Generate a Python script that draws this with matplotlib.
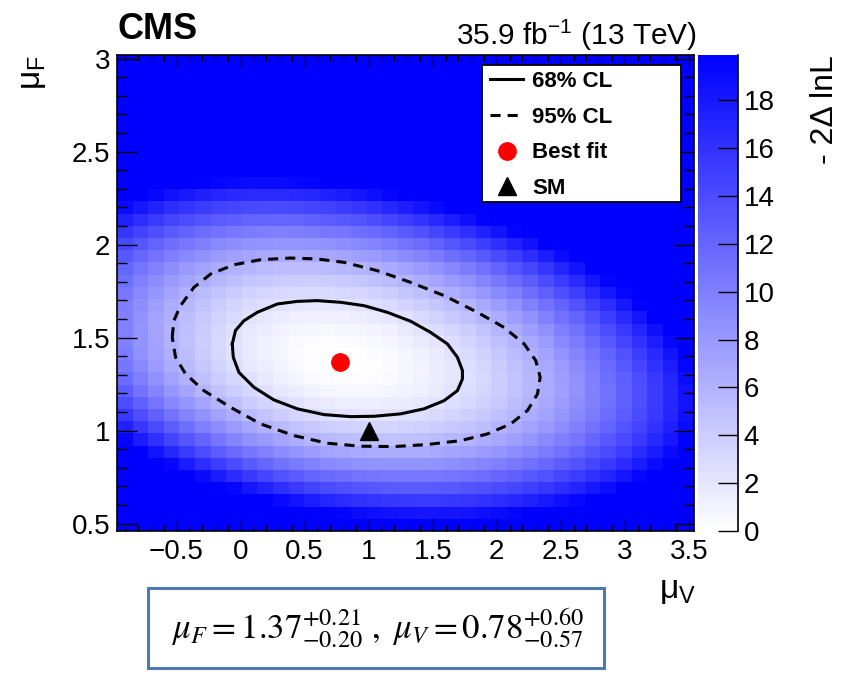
import numpy as np
import matplotlib
matplotlib.use("Agg")
import matplotlib.pyplot as plt
from matplotlib.colors import LinearSegmentedColormap
from matplotlib.lines import Line2D
from matplotlib.patches import Rectangle
from matplotlib.ticker import MultipleLocator, FuncFormatter

plt.rcParams['font.family'] = ['Liberation Sans', 'DejaVu Sans']
plt.rcParams['mathtext.fontset'] = 'custom'
plt.rcParams['mathtext.rm'] = 'Liberation Sans'
plt.rcParams['mathtext.it'] = 'Liberation Sans:italic'
plt.rcParams['mathtext.bf'] = 'Liberation Sans:bold'

# ---------------- data ----------------
mu_v_range = (-0.965, 3.54)   # x bin range
mu_f_range = (0.46, 3.02)     # y bin range
n_bins_v = 37
n_bins_f = 39

S = 20  # saturated (>= colour-scale maximum)
# -2 Delta lnL per bin, rows listed from top (mu_F = 3) to bottom (mu_F = 0.46)
nll_rows = [
    [S] * 37,
    [S] * 37,
    [S] * 37,
    [S] * 37,
    [S] * 37,
    [S] * 37,
    [S] * 37,
    [S] * 37,
    [S] * 37,
    [S] * 37,
    [S] * 5 + [19.8, 19.4, 19.2, 19.0, 19.0, 19.1, 19.3, 19.6] + [S] * 24,
    [S] * 2 + [19.3, 18.5, 17.9, 17.4, 17.0, 16.7, 16.6, 16.5, 16.5, 16.7, 16.9, 17.3, 17.8, 18.3, 18.8, 19.5] + [S] * 19,
    [19.1, 18.1, 17.2, 16.4, 15.8, 15.2, 14.8, 14.5, 14.3, 14.2, 14.2, 14.3, 14.5, 14.8, 15.2, 15.7, 16.2, 16.9, 17.6, 18.4, 19.2] + [S] * 16,
    [17.3, 16.3, 15.4, 14.6, 13.9, 13.3, 12.8, 12.5, 12.2, 12.1, 12.0, 12.1, 12.3, 12.6, 13.0, 13.4, 13.9, 14.5, 15.2, 15.9, 16.7, 17.7, 18.6, 19.7] + [S] * 13,
    [15.7, 14.7, 13.7, 12.9, 12.2, 11.5, 11.0, 10.6, 10.3, 10.1, 10.0, 10.1, 10.2, 10.5, 10.8, 11.2, 11.7, 12.2, 12.9, 13.6, 14.4, 15.3, 16.2, 17.3, 18.4, 19.6] + [S] * 11,
    [14.3, 13.2, 12.2, 11.3, 10.6, 9.9, 9.3, 8.9, 8.6, 8.4, 8.3, 8.3, 8.4, 8.6, 8.9, 9.3, 9.7, 10.2, 10.9, 11.5, 12.3, 13.2, 14.1, 15.1, 16.2, 17.3, 18.5, 19.9] + [S] * 9,
    [13.0, 11.9, 10.9, 10.0, 9.2, 8.5, 7.9, 7.4, 7.0, 6.8, 6.6, 6.6, 6.7, 6.9, 7.1, 7.5, 7.9, 8.4, 9.0, 9.6, 10.3, 11.2, 12.0, 13.0, 14.1, 15.2, 16.4, 17.7, 19.1] + [S] * 8,
    [12.0, 10.8, 9.8, 8.8, 8.0, 7.3, 6.6, 6.1, 5.7, 5.4, 5.2, 5.2, 5.2, 5.3, 5.6, 5.9, 6.2, 6.7, 7.3, 7.9, 8.6, 9.4, 10.2, 11.1, 12.2, 13.3, 14.4, 15.7, 17.0, 18.4] + [S] * 7,
    [11.2, 10.0, 8.9, 7.9, 7.1, 6.3, 5.6, 5.1, 4.6, 4.3, 4.1, 3.9, 3.9, 4.0, 4.2, 4.5, 4.9, 5.3, 5.8, 6.4, 7.0, 7.8, 8.6, 9.5, 10.5, 11.6, 12.7, 14.0, 15.2, 16.6, 18.1, 19.6] + [S] * 5,
    [10.5, 9.3, 8.2, 7.1, 6.2, 5.4, 4.7, 4.1, 3.6, 3.3, 3.0, 2.9, 2.8, 2.9, 3.1, 3.3, 3.6, 4.0, 4.5, 5.0, 5.7, 6.4, 7.2, 8.1, 9.1, 10.1, 11.2, 12.4, 13.7, 15.0, 16.5, 18.0, 19.5] + [S] * 4,
    [10.1, 8.8, 7.6, 6.5, 5.6, 4.8, 4.0, 3.4, 2.9, 2.5, 2.2, 2.0, 1.9, 1.9, 2.1, 2.3, 2.6, 2.9, 3.4, 3.9, 4.5, 5.2, 5.9, 6.8, 7.7, 8.7, 9.8, 11.0, 12.2, 13.5, 15.0, 16.4, 18.0, 19.7] + [S] * 3,
    [9.8, 8.5, 7.3, 6.2, 5.2, 4.3, 3.5, 2.9, 2.3, 1.9, 1.5, 1.3, 1.2, 1.2, 1.3, 1.4, 1.7, 2.0, 2.4, 2.9, 3.5, 4.2, 4.9, 5.7, 6.6, 7.6, 8.6, 9.8, 11.0, 12.2, 13.6, 15.1, 16.6, 18.3, 19.9] + [S] * 2,
    [9.8, 8.4, 7.2, 6.0, 5.0, 4.1, 3.2, 2.5, 1.9, 1.5, 1.1, 0.8, 0.7, 0.6, 0.7, 0.8, 1.0, 1.3, 1.7, 2.2, 2.7, 3.3, 4.0, 4.8, 5.7, 6.6, 7.6, 8.7, 9.9, 11.1, 12.5, 13.9, 15.4, 17.0, 18.6] + [S] * 2,
    [9.8, 8.4, 7.2, 6.0, 4.9, 4.0, 3.1, 2.4, 1.7, 1.2, 0.8, 0.5, 0.3, 0.2, 0.3, 0.4, 0.6, 0.8, 1.2, 1.6, 2.1, 2.7, 3.4, 4.1, 5.0, 5.9, 6.8, 7.9, 9.1, 10.3, 11.6, 13.0, 14.5, 16.1, 17.7, 19.3] + [S],
    [10.2, 8.7, 7.4, 6.2, 5.1, 4.1, 3.2, 2.4, 1.7, 1.2, 0.7, 0.4, 0.2, 0.1, 0.0, 0.1, 0.3, 0.5, 0.8, 1.2, 1.7, 2.3, 2.9, 3.6, 4.4, 5.3, 6.2, 7.3, 8.4, 9.6, 10.9, 12.2, 13.6, 15.2, 16.7, 18.4, S],
    [10.7, 9.2, 7.8, 6.6, 5.5, 4.4, 3.5, 2.7, 1.9, 1.4, 0.9, 0.5, 0.2, 0.1, 0.0, 0.1, 0.2, 0.4, 0.7, 1.0, 1.5, 2.0, 2.6, 3.3, 4.1, 4.9, 5.8, 6.8, 7.9, 9.0, 10.3, 11.6, 13.0, 14.5, 16.1, 17.7, 19.5],
    [11.5, 9.9, 8.6, 7.3, 6.1, 5.0, 4.0, 3.2, 2.4, 1.8, 1.3, 0.8, 0.5, 0.3, 0.2, 0.2, 0.3, 0.5, 0.7, 1.1, 1.5, 2.0, 2.5, 3.1, 3.9, 4.7, 5.6, 6.6, 7.6, 8.7, 9.9, 11.2, 12.5, 14.0, 15.5, 17.1, 18.9],
    [12.6, 11.0, 9.6, 8.2, 7.0, 5.9, 4.8, 4.0, 3.2, 2.5, 1.9, 1.5, 1.1, 0.8, 0.7, 0.7, 0.7, 0.8, 1.1, 1.3, 1.7, 2.2, 2.7, 3.3, 4.0, 4.8, 5.6, 6.6, 7.5, 8.6, 9.8, 11.1, 12.4, 13.8, 15.3, 16.8, 18.5],
    [13.9, 12.3, 10.8, 9.4, 8.2, 7.0, 5.9, 5.0, 4.1, 3.4, 2.8, 2.3, 1.9, 1.6, 1.4, 1.4, 1.4, 1.5, 1.6, 1.9, 2.2, 2.6, 3.1, 3.7, 4.3, 5.1, 5.9, 6.8, 7.7, 8.8, 9.9, 11.1, 12.4, 13.8, 15.3, 16.8, 18.4],
    [15.5, 13.8, 12.3, 10.9, 9.6, 8.4, 7.2, 6.3, 5.4, 4.6, 4.0, 3.4, 3.0, 2.6, 2.4, 2.3, 2.3, 2.3, 2.5, 2.7, 3.0, 3.4, 3.8, 4.3, 5.0, 5.6, 6.4, 7.3, 8.2, 9.2, 10.3, 11.5, 12.7, 14.1, 15.5, 17.0, 18.6],
    [17.3, 15.6, 14.1, 12.6, 11.2, 10.0, 8.8, 7.8, 6.9, 6.1, 5.4, 4.8, 4.3, 3.9, 3.6, 3.5, 3.4, 3.4, 3.5, 3.7, 4.0, 4.3, 4.7, 5.2, 5.8, 6.5, 7.2, 8.0, 8.9, 9.9, 11.0, 12.1, 13.3, 14.6, 16.0, 17.4, 19.0],
    [19.4, 17.7, 16.1, 14.6, 13.2, 11.9, 10.7, 9.6, 8.6, 7.8, 7.0, 6.4, 5.9, 5.5, 5.2, 5.0, 4.9, 4.8, 4.9, 5.0, 5.3, 5.6, 5.9, 6.4, 6.9, 7.6, 8.2, 9.1, 9.9, 10.8, 11.9, 13.0, 14.1, 15.4, 16.7, 18.1, 19.7],
    [S, S, 18.4, 16.8, 15.4, 14.0, 12.8, 11.7, 10.7, 9.8, 9.0, 8.3, 7.7, 7.3, 6.9, 6.7, 6.6, 6.5, 6.5, 6.6, 6.8, 7.1, 7.4, 7.8, 8.3, 8.9, 9.6, 10.3, 11.1, 12.0, 13.1, 14.1, 15.2, 16.5, 17.8, 19.1, S],
    [S] * 3 + [19.3, 17.8, 16.4, 15.1, 14.0, 12.9, 12.0, 11.1, 10.4, 9.8, 9.3, 8.9, 8.6, 8.5, 8.4, 8.4, 8.4, 8.6, 8.8, 9.1, 9.5, 10.0, 10.5, 11.1, 11.8, 12.6, 13.5, 14.4, 15.4, 16.5, 17.8, 19.0] + [S] * 2,
    [S] * 5 + [19.1, 17.8, 16.6, 15.5, 14.5, 13.6, 12.9, 12.2, 11.6, 11.2, 10.9, 10.7, 10.6, 10.5, 10.5, 10.6, 10.8, 11.1, 11.4, 11.9, 12.4, 13.0, 13.6, 14.4, 15.2, 16.1, 17.1, 18.2, 19.3] + [S] * 3,
    [S] * 7 + [19.4, 18.2, 17.2, 16.2, 15.4, 14.7, 14.2, 13.7, 13.3, 13.1, 12.9, 12.8, 12.8, 12.9, 13.0, 13.3, 13.6, 14.0, 14.4, 15.0, 15.6, 16.3, 17.1, 18.0, 18.9] + [S] * 5,
    [S] * 10 + [19.2, 18.4, 17.6, 17.0, 16.5, 16.1, 15.8, 15.6, 15.5, 15.4, 15.4, 15.6, 15.7, 16.0, 16.4, 16.8, 17.3, 17.9, 18.6, 19.3] + [S] * 7,
    [S] * 14 + [19.5, 19.0, 18.7, 18.5, 18.3, 18.2, 18.2, 18.3, 18.4, 18.7, 19.0, 19.4, 19.85] + [S] * 10,
    [S] * 37,
]

# contours (mu_V, mu_F)
cl68_mu_v = [-0.065, -0.04, 0.026, 0.130, 0.287, 0.443, 0.599, 0.781, 0.963, 1.146, 1.328, 1.484,
             1.615, 1.693, 1.732, 1.732, 1.693, 1.589, 1.432, 1.25, 1.042, 0.859, 0.651, 0.443,
             0.260, 0.104, -0.013, -0.057, -0.065]
cl68_mu_f = [1.466, 1.538, 1.591, 1.636, 1.681, 1.695, 1.699, 1.690, 1.672, 1.636, 1.588, 1.528,
             1.466, 1.394, 1.323, 1.278, 1.215, 1.161, 1.117, 1.090, 1.077, 1.075, 1.086, 1.117,
             1.165, 1.233, 1.313, 1.394, 1.466]
cl95_mu_v = [-0.534, -0.521, -0.469, -0.365, -0.234, -0.052, 0.156, 0.391, 0.599, 0.807, 1.068,
             1.328, 1.589, 1.849, 2.057, 2.214, 2.305, 2.339, 2.318, 2.240, 2.109, 1.927, 1.719,
             1.458, 1.198, 0.938, 0.677, 0.417, 0.156, -0.078, -0.287, -0.430, -0.508, -0.534]
cl95_mu_f = [1.502, 1.591, 1.672, 1.770, 1.842, 1.892, 1.919, 1.928, 1.923, 1.905, 1.860,
             1.797, 1.726, 1.636, 1.555, 1.466, 1.376, 1.287, 1.197, 1.108, 1.036, 0.982, 0.946,
             0.925, 0.914, 0.916, 0.932, 0.973, 1.036, 1.125, 1.215, 1.305, 1.394, 1.502]

best_fit = (0.78, 1.37)
sm_point = (1.0, 1.0)
z_max = 19.9
cbar_ticks = [0, 2, 4, 6, 8, 10, 12, 14, 16, 18]
legend_labels = ['68% CL', '95% CL', 'Best fit', 'SM']
result_text = r'$\mu_F = 1.37^{+0.21}_{-0.20}\ ,\ \mu_V = 0.78^{+0.60}_{-0.57}$'

# ---------------- figure ----------------
W, H = 841, 678
fig = plt.figure(figsize=(W / 100, H / 100), dpi=100)
fig.patch.set_facecolor('white')

def fbox(x0, y0, x1, y1):
    return [x0 / W, 1 - y1 / H, (x1 - x0) / W, (y1 - y0) / H]

ax = fig.add_axes(fbox(117, 55, 694, 531))

cmap = LinearSegmentedColormap.from_list('wb', [(1, 1, 1), (0, 0, 1)])
x_edges = np.linspace(mu_v_range[0], mu_v_range[1], n_bins_v + 1)
y_edges = np.linspace(mu_f_range[0], mu_f_range[1], n_bins_f + 1)
Z = np.array(nll_rows, dtype=float)[::-1]
pcm = ax.pcolormesh(x_edges, y_edges, Z, cmap=cmap, vmin=0, vmax=z_max,
                    shading='flat', antialiased=False, edgecolors='none')

dash = (0, (3.3, 2.3))
ax.plot(cl68_mu_v, cl68_mu_f, color='black', lw=2.2, solid_joinstyle='round', zorder=3)
ax.plot(cl95_mu_v, cl95_mu_f, color='black', lw=2.2, linestyle=dash, zorder=3)
ax.plot([best_fit[0]], [best_fit[1]], marker='o', color='red', markersize=12.5,
        linestyle='none', zorder=4)
ax.plot([sm_point[0]], [sm_point[1]], marker='^', color='black', markersize=12.5,
        linestyle='none', zorder=4)

ax.set_xlim(mu_v_range)
ax.set_ylim(mu_f_range)

def fmt(v, pos):
    s = '%g' % round(v, 3)
    return s.replace('-', '\u2212')

ax.xaxis.set_major_locator(MultipleLocator(0.5))
ax.xaxis.set_minor_locator(MultipleLocator(0.1))
ax.yaxis.set_major_locator(MultipleLocator(0.5))
ax.yaxis.set_minor_locator(MultipleLocator(0.1))
ax.xaxis.set_major_formatter(FuncFormatter(fmt))
ax.yaxis.set_major_formatter(FuncFormatter(fmt))
ax.tick_params(which='both', direction='in', top=True, right=True, width=1.0, labelsize=20)
ax.tick_params(axis='x', which='major', length=8.6, pad=6)
ax.tick_params(axis='x', which='minor', length=4.3)
ax.tick_params(axis='y', which='major', length=14.4, pad=5)
ax.tick_params(axis='y', which='minor', length=7.2)
for sp in ax.spines.values():
    sp.set_linewidth(1.2)

# legend box
ax.add_patch(Rectangle((482 / W, 1 - 202 / H), (681 - 482) / W, (202 - 65) / H,
                       transform=fig.transFigure, facecolor='white', edgecolor='black',
                       lw=1.3, zorder=4.5, clip_on=False))
handles = [Line2D([], [], color='black', lw=2.2),
           Line2D([], [], color='black', lw=2.2, linestyle=dash),
           Line2D([], [], marker='o', color='red', markersize=12.5, linestyle='none'),
           Line2D([], [], marker='^', color='black', markersize=12.5, linestyle='none')]
leg = ax.legend(handles, legend_labels, loc='upper left',
                bbox_to_anchor=(490 / W, 1 - 71 / H), bbox_transform=fig.transFigure,
                frameon=False, prop={'weight': 'bold', 'size': 16},
                handlelength=1.5, handletextpad=0.4, labelspacing=0.66, borderpad=0.0,
                borderaxespad=0.0)
leg.set_zorder(5)

# colour bar
cax = fig.add_axes(fbox(698, 55, 738, 531))
cb = fig.colorbar(pcm, cax=cax, ticks=cbar_ticks)
cb.outline.set_visible(False)
cax.yaxis.set_ticks_position('right')
cax.tick_params(direction='in', length=14.4, width=1.0, labelsize=20, pad=4)
cax.add_line(Line2D([1, 1], [0, 1], transform=cax.transAxes, color='black', lw=1.2, clip_on=False))

# texts
fig.text(117 / W, 1 - 39 / H, 'CMS', weight='bold', size=26, ha='left', va='baseline')
fig.text(697 / W, 1 - 45 / H, r'35.9 fb$^{-1}$ (13 TeV)', size=21.5, ha='right', va='baseline')
fig.text(33 / W, 1 - 55 / H, 'μ$_{\\rm F}$', size=24, rotation=90, ha='center', va='top')
fig.text(696 / W, 1 - 598 / H, 'μ$_{\\rm V}$', size=24, ha='right', va='baseline')
fig.text(825 / W, 1 - 55 / H, '- 2Δ lnL', size=23, rotation=90, ha='center', va='top')

# result box
fig.add_artist(Rectangle((148 / W, 1 - 668 / H), (604 - 148) / W, (668 - 588) / H,
                         transform=fig.transFigure, facecolor='white', edgecolor='#4d7ab3',
                         lw=2.2))
fig.text(378 / W, 1 - 628 / H, result_text, size=25, ha='center', va='center',
         math_fontfamily='stix')

fig.savefig('out.png', dpi=100)
